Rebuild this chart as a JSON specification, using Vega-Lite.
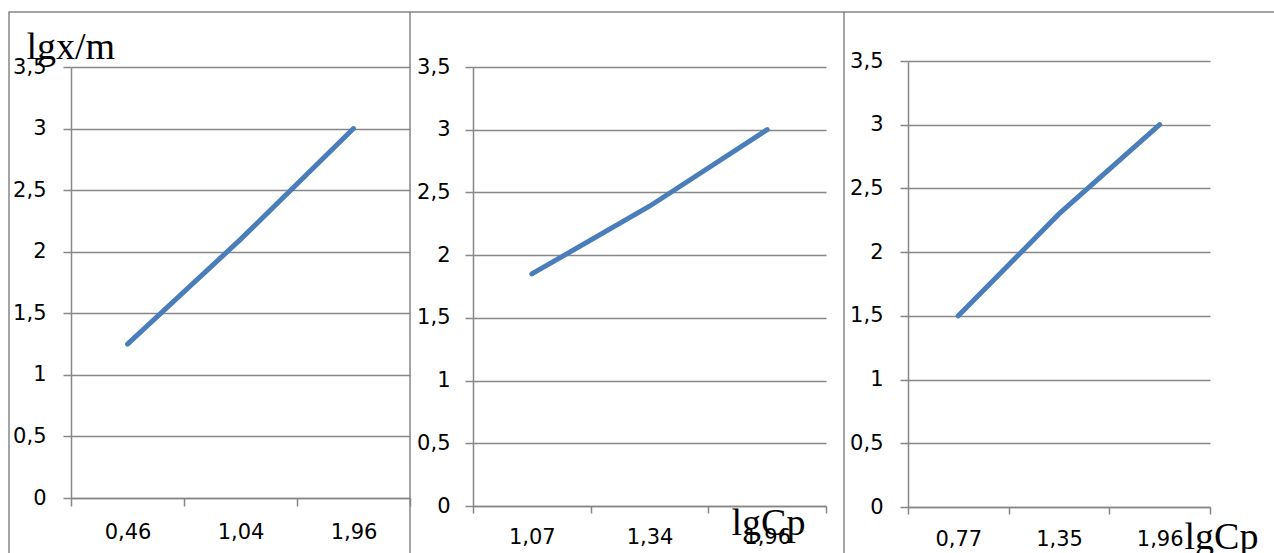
{
  "$schema": "https://vega.github.io/schema/vega-lite/v6.json",
  "padding": {"left": 8, "top": 11, "right": 0, "bottom": 0},
  "autosize": {"type": "pad"},
  "spacing": 0,
  "bounds": "flush",
  "datasets": {
    "p1": [
      {"lgCp": "0,46", "lgxm": 1.25},
      {"lgCp": "1,04", "lgxm": 2.1},
      {"lgCp": "1,96", "lgxm": 3.0}
    ],
    "p2": [
      {"lgCp": "1,07", "lgxm": 1.85},
      {"lgCp": "1,34", "lgxm": 2.39},
      {"lgCp": "1,96", "lgxm": 3.0}
    ],
    "p3": [
      {"lgCp": "0,77", "lgxm": 1.5},
      {"lgCp": "1,35", "lgxm": 2.3},
      {"lgCp": "1,96", "lgxm": 3.0}
    ]
  },
  "config": {
    "view": {"stroke": null},
    "axis": {
      "domainColor": "#878787",
      "tickColor": "#878787",
      "gridColor": "#878787",
      "gridOpacity": 1,
      "domainWidth": 1.5,
      "tickWidth": 1.5,
      "gridWidth": 1.5,
      "labelFont": "DejaVu Sans",
      "labelFontSize": 21,
      "labelColor": "#000000",
      "titleFont": "Liberation Serif",
      "titleFontSize": 38,
      "titleFontWeight": "normal",
      "titleColor": "#000000"
    }
  },
  "hconcat": [
    {
      "width": 401,
      "height": 541,
      "view": {"stroke": "#878787", "strokeWidth": 1.5, "strokeDash": [401, 942, 541, 1]},
      "data": {"name": "p1"},
      "mark": {"type": "line", "color": "#4A7EBB", "strokeWidth": 5, "strokeCap": "round"},
      "encoding": {
        "x": {
          "field": "lgCp", "type": "ordinal", "sort": null, "bandPosition": 0.5,
          "scale": {"type": "band", "paddingInner": 0, "paddingOuter": 0, "range": [62, 401]},
          "axis": {"title": null, "labelAngle": 0, "offset": -55, "tickBand": "extent", "tickSize": 8, "labelPadding": 26, "labelBaseline": "middle", "grid": false}
        },
        "y": {
          "field": "lgxm", "type": "quantitative",
          "scale": {"domain": [0, 3.5], "range": [486, 55], "nice": false, "zero": true},
          "axis": {
            "values": [0, 0.5, 1, 1.5, 2, 2.5, 3, 3.5],
            "labelExpr": "replace(format(datum.value, ''), '.', ',')",
            "offset": -62, "tickSize": 8, "labelPadding": 17, "grid": true,
            "title": "lgx/m", "titleAngle": 0, "titleX": -45, "titleY": 46,
            "titleAlign": "left", "titleBaseline": "alphabetic"
          }
        }
      }
    },
    {
      "width": 434,
      "height": 541,
      "view": {"stroke": "#878787", "strokeWidth": 1.5, "strokeDash": [434, 975, 541, 1]},
      "data": {"name": "p2"},
      "mark": {"type": "line", "color": "#4A7EBB", "strokeWidth": 5, "strokeCap": "round"},
      "encoding": {
        "x": {
          "field": "lgCp", "type": "ordinal", "sort": null, "bandPosition": 0.5,
          "scale": {"type": "band", "paddingInner": 0, "paddingOuter": 0, "range": [63, 416]},
          "axis": {
            "labelAngle": 0, "offset": -47, "tickBand": "extent", "tickSize": 7, "labelPadding": 24, "labelBaseline": "middle", "grid": false,
            "title": "lgCp", "titleX": 321, "titleY": 28, "titleAlign": "left", "titleBaseline": "alphabetic"
          }
        },
        "y": {
          "field": "lgxm", "type": "quantitative",
          "scale": {"domain": [0, 3.5], "range": [494, 55], "nice": false, "zero": true},
          "axis": {
            "values": [0, 0.5, 1, 1.5, 2, 2.5, 3, 3.5],
            "labelExpr": "replace(format(datum.value, ''), '.', ',')",
            "offset": -63, "tickSize": 8, "labelPadding": 15, "grid": true, "title": null
          }
        }
      }
    },
    {
      "width": 430,
      "height": 541,
      "view": {"stroke": "#878787", "strokeWidth": 1.5, "strokeDash": [430, 971, 541, 1]},
      "data": {"name": "p3"},
      "mark": {"type": "line", "color": "#4A7EBB", "strokeWidth": 5, "strokeCap": "round"},
      "encoding": {
        "x": {
          "field": "lgCp", "type": "ordinal", "sort": null, "bandPosition": 0.5,
          "scale": {"type": "band", "paddingInner": 0, "paddingOuter": 0, "range": [64, 366]},
          "axis": {
            "labelAngle": 0, "offset": -46, "tickBand": "extent", "tickSize": 7, "labelPadding": 25, "labelBaseline": "middle", "grid": false,
            "title": "lgCp", "titleX": 340, "titleY": 41, "titleAlign": "left", "titleBaseline": "alphabetic"
          }
        },
        "y": {
          "field": "lgxm", "type": "quantitative",
          "scale": {"domain": [0, 3.5], "range": [495, 49], "nice": false, "zero": true},
          "axis": {
            "values": [0, 0.5, 1, 1.5, 2, 2.5, 3, 3.5],
            "labelExpr": "replace(format(datum.value, ''), '.', ',')",
            "offset": -64, "tickSize": 8, "labelPadding": 17, "grid": true, "title": null
          }
        }
      }
    }
  ]
}
